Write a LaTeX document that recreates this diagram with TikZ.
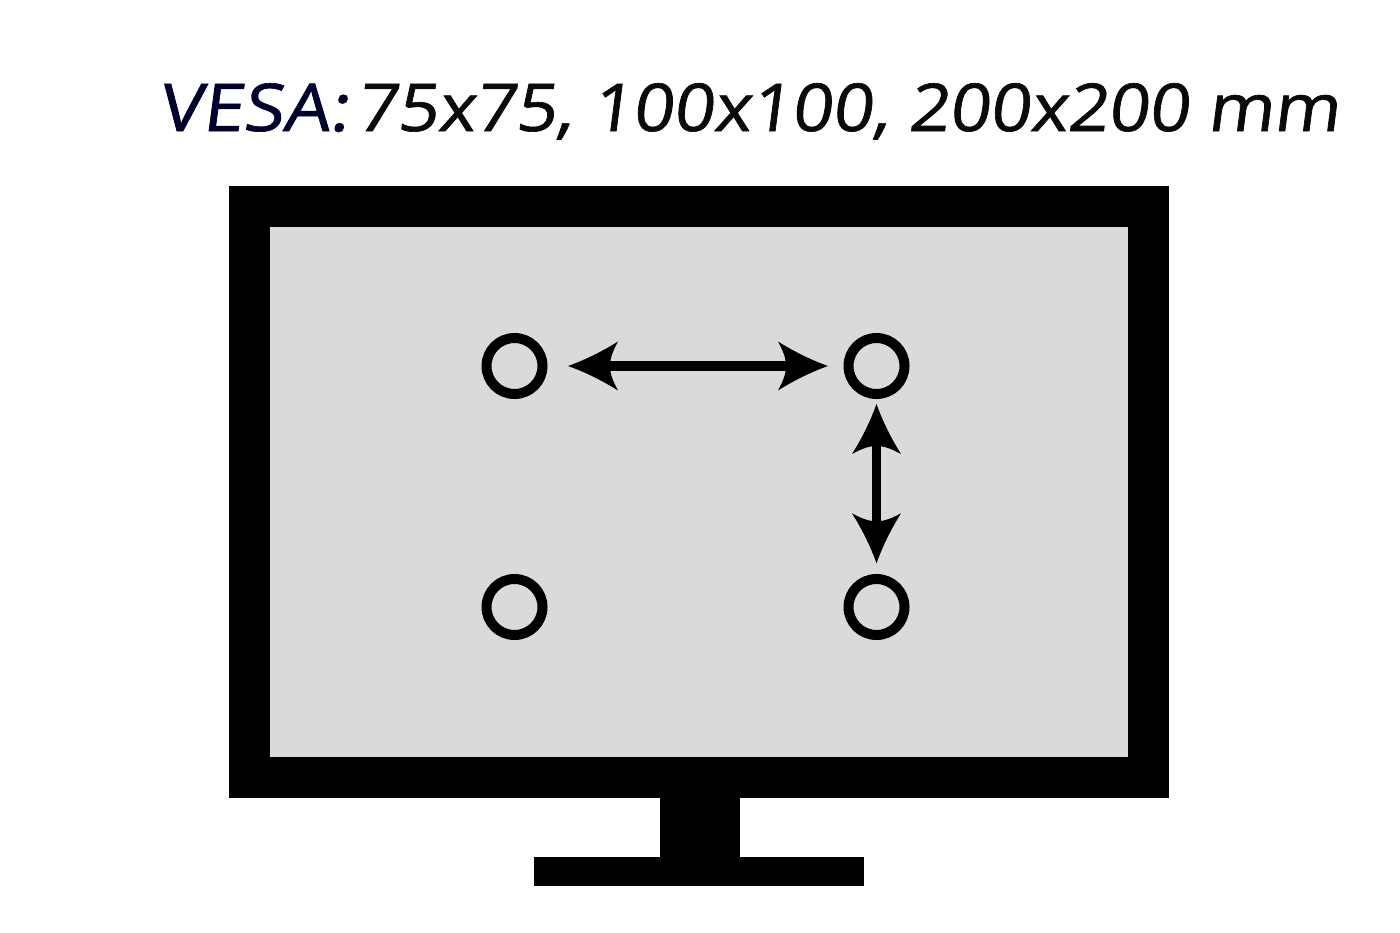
\documentclass[tikz,border=0pt]{standalone}
\usepackage{graphicx}
\usepackage{fontspec}
\newfontfamily\titlefont[FakeSlant=0.12,FakeBold=1]{Open Sans}
\usetikzlibrary{arrows.meta}
\pgfdeclarearrow{
  name=vesatip,
  setup code={\pgfarrowssettipend{0pt}\pgfarrowssetlineend{-40pt}\pgfarrowssetbackend{-50pt}},
  drawing code={
    \pgfpathmoveto{\pgfqpoint{0pt}{0pt}}
    \pgfpathcurveto{\pgfqpoint{-17pt}{6pt}}{\pgfqpoint{-35pt}{15pt}}{\pgfqpoint{-50pt}{24.5pt}}
    \pgfpathcurveto{\pgfqpoint{-46pt}{17pt}}{\pgfqpoint{-42pt}{9pt}}{\pgfqpoint{-42pt}{0pt}}
    \pgfpathcurveto{\pgfqpoint{-42pt}{-9pt}}{\pgfqpoint{-46pt}{-17pt}}{\pgfqpoint{-50pt}{-24.5pt}}
    \pgfpathcurveto{\pgfqpoint{-35pt}{-15pt}}{\pgfqpoint{-17pt}{-6pt}}{\pgfqpoint{0pt}{0pt}}
    \pgfpathclose
    \pgfusepathqfill
  }
}
\tikzset{
  hole/.style={circle,draw=black,line width=10pt,minimum size=56pt,inner sep=0pt,outer sep=5pt},
  monitorpart/.style={fill=black},
  measure/.style={{vesatip}-{vesatip},line width=#1},
  title/.style={anchor=base west,inner sep=0pt,font=\titlefont\fontsize{66}{66}\selectfont}
}
\definecolor{screengray}{HTML}{DADADA}
\definecolor{vesablue}{HTML}{00002E}
\definecolor{inkblack}{HTML}{0A0A0A}
\begin{document}
\begin{tikzpicture}[x=1pt,y=-1pt]
\useasboundingbox (0,0) rectangle (1400,932);
\fill[white] (0,0) rectangle (1400,932);
\fill[monitorpart] (229,186) rectangle (1169,798);
\fill[screengray] (270,227) rectangle (1128,757);
\fill[monitorpart] (660,798) rectangle (740,857);
\fill[monitorpart] (534,857) rectangle (864,886);
\node[title,text=vesablue] (brand) at (158,131) {\scalebox{1.11}[1]{VESA:}};
\node[title,text=inkblack] (sizes) at (356,131) {\scalebox{1.075}[1]{75x75, 100x100, 200x200 mm}};
\node[hole] (tl) at (514.5,366) {};
\node[hole] (tr) at (876.5,366) {};
\node[hole] (bl) at (514.5,607) {};
\node[hole] (br) at (876.5,607) {};
\draw[measure=10pt,shorten <=20.5pt,shorten >=15.5pt] (tl) -- (tr);
\draw[measure=9pt,shorten <=5pt,shorten >=10.7pt] (tr) -- (br);
\end{tikzpicture}
\end{document}
